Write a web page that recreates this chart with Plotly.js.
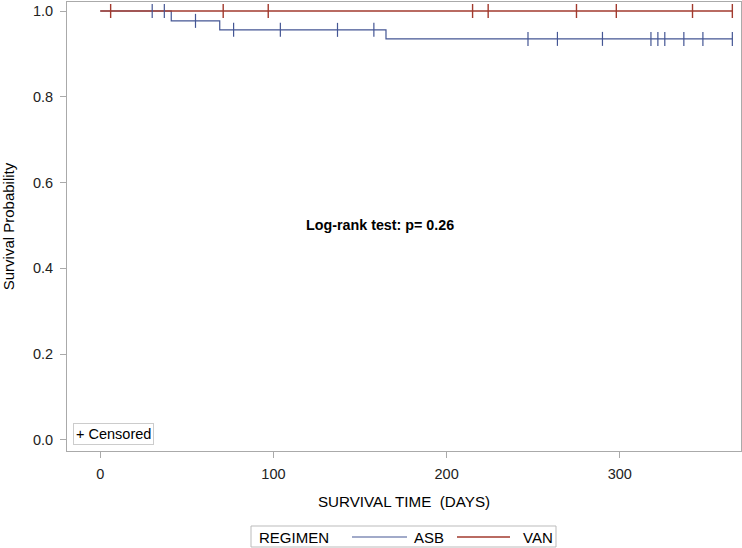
<!DOCTYPE html>
<html>
<head>
<meta charset="utf-8">
<script src="https://cdn.plot.ly/plotly-3.0.1.min.js"></script>
<style>html,body{margin:0;padding:0;background:#fff;}#chart{width:742px;height:548px;}</style>
</head>
<body>
<div id="chart"></div>
<script>
// ASB step curve (Kaplan-Meier estimate)
var asbStepTime = [0, 41, 69, 165, 365];
var asbStepSurv = [1.0, 0.977, 0.956, 0.935, 0.935];
// ASB censored observations
var asbCensorTime = [30, 37, 55, 77, 104, 137, 158, 247, 264, 290, 318, 322, 326, 337, 348, 365];
var asbCensorSurv = [1.0, 1.0, 0.977, 0.956, 0.956, 0.956, 0.956, 0.935, 0.935, 0.935, 0.935, 0.935, 0.935, 0.935, 0.935, 0.935];
// VAN step curve
var vanStepTime = [0, 365];
var vanStepSurv = [1.0, 1.0];
// VAN censored observations
var vanCensorTime = [6, 71, 97, 215, 224, 275, 298, 342, 365];
var vanCensorSurv = [1.0, 1.0, 1.0, 1.0, 1.0, 1.0, 1.0, 1.0, 1.0];

var groupNames = ['ASB', 'VAN'];
var legendTitle = 'REGIMEN';
var xTicks = [0, 100, 200, 300];
var yTicks = [0.0, 0.2, 0.4, 0.6, 0.8, 1.0];
var yTickText = ['0.0', '0.2', '0.4', '0.6', '0.8', '1.0'];

var blue = '#445694', red = '#A23A2E';
var font = 'Liberation Sans, Arial, sans-serif';

// plot area in pixels (for placing legend / notes)
var PL = 67, PR = 741, PT = 2, PB = 451;
function px(x) { return (x - PL) / (PR - PL); }
function py(y) { return (PB - y) / (PB - PT); }

var traces = [
  {x: asbStepTime, y: asbStepSurv, mode: 'lines', line: {shape: 'hv', color: blue, width: 1.2}, name: groupNames[0], showlegend: false},
  {x: vanStepTime, y: vanStepSurv, mode: 'lines', line: {shape: 'hv', color: red, width: 1.6}, name: groupNames[1], showlegend: false},
  {x: asbCensorTime, y: asbCensorSurv, mode: 'markers', marker: {symbol: 'line-ns-open', size: 10, color: blue, line: {color: blue, width: 1.2}}, showlegend: false},
  {x: vanCensorTime, y: vanCensorSurv, mode: 'markers', marker: {symbol: 'line-ns-open', size: 10, color: red, line: {color: red, width: 1.4}}, showlegend: false}
];

var legY = 537;
var layout = {
  width: 742, height: 548,
  margin: {l: PL, r: 742 - PR, t: PT, b: 548 - PB},
  paper_bgcolor: '#fff', plot_bgcolor: '#fff',
  font: {family: font, color: '#000'},
  showlegend: false,
  xaxis: {
    range: [-19.2, 370], tickvals: xTicks, ticktext: xTicks.map(String),
    showgrid: false, zeroline: false, showline: true, mirror: true, linecolor: '#aaa', linewidth: 1,
    ticks: 'outside', ticklen: 6, tickcolor: '#aaa', automargin: false, ticklabelstandoff: 4,
    tickfont: {size: 14.5, family: font, color: '#222'},
    title: {text: 'SURVIVAL TIME\u00a0 (DAYS)', font: {size: 15.2, family: font, color: '#000'}, standoff: 14}
  },
  yaxis: {
    range: [-0.026, 1.021], tickvals: yTicks, ticktext: yTickText,
    showgrid: false, zeroline: false, showline: true, mirror: true, linecolor: '#aaa', linewidth: 1,
    ticks: 'outside', ticklen: 6, tickcolor: '#aaa', automargin: false, ticklabelstandoff: 4,
    tickfont: {size: 14.5, family: font, color: '#222'},
    title: {text: 'Survival Probability', font: {size: 15, family: font, color: '#000'}, standoff: 16}
  },
  shapes: [
    {type: 'rect', xref: 'paper', yref: 'paper', x0: px(251), x1: px(556), y0: py(547), y1: py(526),
     line: {color: '#bbb', width: 1}, fillcolor: '#fff'},
    {type: 'line', xref: 'paper', yref: 'paper', x0: px(352), x1: px(407), y0: py(legY), y1: py(legY), line: {color: blue, width: 1.2}},
    {type: 'line', xref: 'paper', yref: 'paper', x0: px(457), x1: px(510), y0: py(legY), y1: py(legY), line: {color: red, width: 1.4}}
  ],
  annotations: [
    {text: '<b>Log-rank test: p= 0.26</b>', x: 161.5, y: 0.5, xref: 'x', yref: 'y', showarrow: false,
     font: {size: 14.3, family: font, color: '#000'}},
    {text: '+ Censored', x: px(73), y: py(445), xref: 'paper', yref: 'paper', xanchor: 'left', yanchor: 'bottom',
     showarrow: false, bordercolor: '#ccc', borderwidth: 1, borderpad: 2, bgcolor: '#fff',
     font: {size: 14.5, family: font, color: '#000'}},
    {text: legendTitle, x: px(257), y: py(legY), xref: 'paper', yref: 'paper', xanchor: 'left', yanchor: 'middle',
     showarrow: false, font: {size: 15, family: font, color: '#000'}},
    {text: groupNames[0], x: px(412), y: py(legY), xref: 'paper', yref: 'paper', xanchor: 'left', yanchor: 'middle',
     showarrow: false, font: {size: 15, family: font, color: '#000'}},
    {text: groupNames[1], x: px(521), y: py(legY), xref: 'paper', yref: 'paper', xanchor: 'left', yanchor: 'middle',
     showarrow: false, font: {size: 15, family: font, color: '#000'}}
  ]
};

Plotly.newPlot('chart', traces, layout, {staticPlot: true, displayModeBar: false});
</script>
</body>
</html>
